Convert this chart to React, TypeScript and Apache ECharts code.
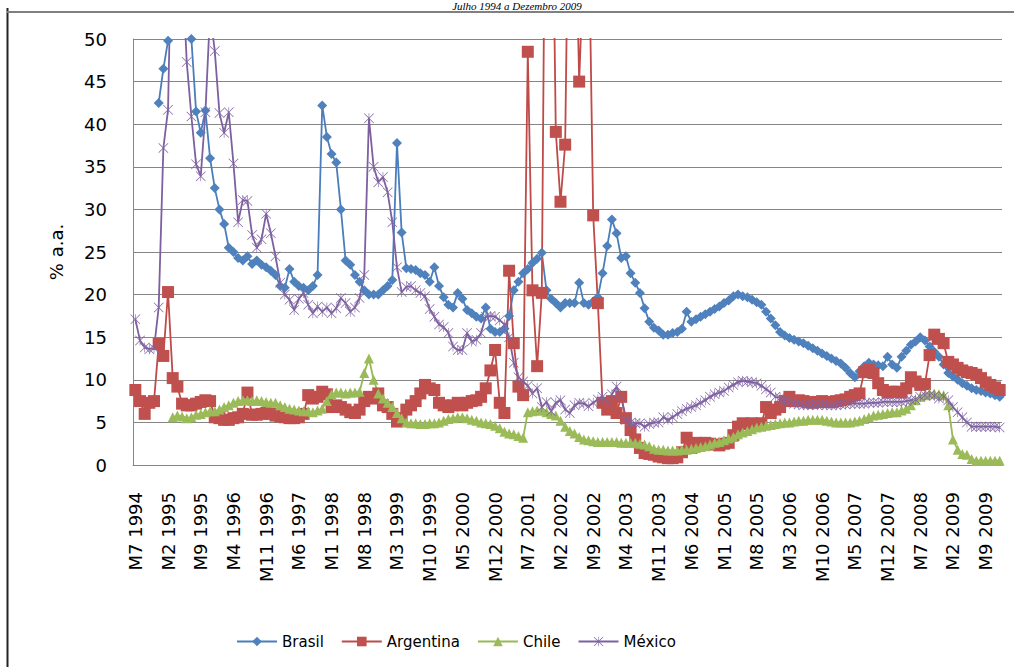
import React, { useEffect, useRef } from "react";
import * as echarts from "echarts";

// Categories: monthly, July 1994 to December 2009
const categories: string[] = [];
for (let k = 0; k < 186; k++) {
  const m = ((6 + k) % 12) + 1;
  const y = 1994 + Math.floor((6 + k) / 12);
  categories.push(`M${m} ${y}`);
}

const yTicks = [0, 5, 10, 15, 20, 25, 30, 35, 40, 45, 50];

const brasil: (number | null)[] = [
  null, null, null, null, null, 42.5,
  46.5, 49.8, 58, 62, 60, 56, 50.0, 41.5, 39.0, 41.6, 36.0, 32.5,
  30.0, 28.3, 25.5, 25.0, 24.3, 24.0, 24.5, 23.6, 24.0, 23.5, 23.2, 22.8,
  22.3, 21.0, 20.8, 23.0, 21.5, 21.0, 20.8, 20.5, 21.0, 22.3, 42.2, 38.5,
  36.5, 35.5, 30.0, 24.0, 23.5, 22.3, 21.5, 20.5, 20.0, 20.0, 20.0, 20.5,
  21.0, 21.7, 37.8, 27.3, 23.1, 23.0, 22.9, 22.5, 22.3, 21.5, 23.2, 21.0,
  19.7, 18.8, 18.5, 20.2, 19.5, 18.2, 17.8, 17.4, 17.2, 18.5, 16.0, 15.6,
  15.6, 16.0, 17.5, 20.5, 21.5, 22.5, 23.0, 23.7, 24.2, 24.9, 20.5, 19.5,
  19.0, 18.5, 19.0, 19.0, 19.0, 21.4, 19.0, 18.8, 19.2, 19.7, 22.5, 25.7,
  28.8, 27.2, 24.3, 24.5, 22.5, 21.4, 20.2, 18.4, 16.8, 16.1, 15.8, 15.3,
  15.3, 15.5, 15.6, 16.0, 18.0, 16.8, 17.1, 17.4, 17.7, 18.0, 18.3, 18.6,
  19.0, 19.3, 19.8, 20.0, 19.8, 19.7, 19.4, 19.1, 18.8, 18.0, 17.2, 16.4,
  15.6, 15.2, 14.9, 14.7, 14.5, 14.3, 14.0, 13.7, 13.4, 13.1, 12.8, 12.5,
  12.2, 11.9, 11.4, 10.8, 10.3, 11.0, 11.6, 12.0, 11.8, 11.7, 11.6, 12.7,
  11.8, 11.4, 12.7, 13.4, 14.1, 14.5, 15.0, 14.6, 13.9, 13.3, 12.7, 11.8,
  10.8, 10.4, 10.0, 9.6, 9.3, 9.0, 8.8, 8.7, 8.5, 8.4, 8.2, 8.0,
];

const argentina: (number | null)[] = [
  8.8, 7.5, 6.0, 7.3, 7.5, 14.2,
  12.8, 20.3, 10.2, 9.2, 7.2, 7.0, 7.0, 7.2, 7.4, 7.6, 7.5, 5.6,
  5.5, 5.3, 5.3, 5.5, 5.6, 6.0, 8.5, 5.9, 5.9, 6.0, 6.1, 6.0,
  5.8, 5.7, 5.6, 5.5, 5.5, 5.6, 6.0, 8.2, 7.8, 8.0, 8.6, 8.3,
  6.8, 7.0, 6.8, 6.5, 6.2, 6.1, 6.5, 7.5, 8.0, 7.8, 8.4, 7.0,
  6.8, 6.0, 5.1, 5.5, 6.5, 7.0, 7.5, 8.4, 9.4, 9.0, 8.8, 7.3,
  7.0, 6.8, 7.0, 7.3, 7.0, 7.3, 7.5, 7.6, 8.0, 9.0, 11.1, 13.5,
  7.3, 6.1, 22.8, 14.3, 9.2, 8.2, 48.5, 20.5, 11.6, 20.2, 90, 80,
  39.1, 30.9, 37.6, 80, 70, 45, 60, 65, 29.3, 19.0, 7.3, 6.5,
  7.5, 6.1, 8.0, 5.5, 4.1, 3.0, 2.0, 1.4, 1.3, 1.2, 1.0, 0.9,
  0.8, 0.8, 0.9, 1.5, 3.2, 2.0, 2.6, 2.5, 2.6, 2.5, 2.4, 2.3,
  2.5, 2.6, 3.5, 4.5, 4.9, 4.8, 4.9, 4.8, 4.9, 6.8, 6.1, 6.5,
  6.8, 7.5, 8.0, 7.5, 7.6, 7.5, 7.4, 7.3, 7.4, 7.5, 7.4, 7.4,
  7.5, 7.6, 7.7, 8.0, 8.2, 8.4, 10.9, 11.2, 10.8, 9.6, 8.8, 8.5,
  8.6, 8.6, 8.5, 9.0, 10.3, 9.8, 9.4, 9.5, 12.9, 15.3, 14.8, 14.3,
  12.1, 11.8, 11.4, 11.1, 10.9, 10.8, 10.6, 10.2, 9.7, 9.4, 9.1, 8.8,
];

const chile: (number | null)[] = [
  null, null, null, null, null, null,
  null, null, 5.6, 5.8, 5.7, 5.5, 5.6, 5.9, 6.0, 6.2, 6.3, 6.3,
  6.5, 6.8, 7.0, 7.3, 7.5, 7.6, 7.6, 7.5, 7.6, 7.5, 7.4, 7.3,
  7.3, 7.0, 6.8, 6.6, 6.5, 6.4, 6.3, 6.3, 6.2, 6.4, 6.6, 7.5,
  8.3, 8.5, 8.5, 8.4, 8.5, 8.5, 8.6, 10.8, 12.5, 10.0, 8.4, 7.8,
  7.3, 6.8, 6.1, 5.5, 5.0, 4.9, 4.9, 4.8, 4.8, 4.9, 4.9, 5.0,
  5.2, 5.4, 5.5, 5.6, 5.6, 5.5, 5.3, 5.2, 5.0, 4.9, 4.8, 4.6,
  4.3, 3.9, 3.7, 3.6, 3.4, 3.2, 6.2, 6.3, 6.4, 6.4, 6.2, 6.0,
  5.8, 5.2, 4.5, 4.0, 3.7, 3.3, 3.0, 2.9, 2.8, 2.7, 2.7, 2.7,
  2.7, 2.7, 2.6, 2.6, 2.6, 2.6, 2.5, 2.4, 2.2, 1.9, 1.8, 1.8,
  1.7, 1.7, 1.7, 1.8, 1.8, 1.9, 2.0, 2.1, 2.2, 2.4, 2.6, 2.7,
  2.9, 3.1, 3.3, 3.6, 3.8, 4.0, 4.2, 4.4, 4.5, 4.6, 4.7, 4.8,
  4.9, 5.0, 5.0, 5.1, 5.2, 5.2, 5.3, 5.3, 5.3, 5.3, 5.2, 5.1,
  5.0, 5.0, 5.0, 5.0, 5.1, 5.2, 5.4, 5.6, 5.8, 5.9, 6.0, 6.1,
  6.2, 6.2, 6.4, 6.6, 7.0, 7.6, 8.0, 8.2, 8.4, 8.4, 8.3, 8.2,
  7.0, 3.0, 1.8, 1.3, 1.2, 0.7, 0.5, 0.5, 0.5, 0.5, 0.5, 0.5,
];

const mexico: (number | null)[] = [
  17.1, 14.6, 13.8, 13.6, 13.7, 18.5,
  37.2, 41.7, 69.5, 74.8, 59.2, 47.3, 40.9, 35.3, 33.9, 41.4, 53.2, 48.6,
  41.3, 39.0, 41.4, 35.4, 28.5, 31.1, 31.0, 27.0, 25.5, 26.5, 29.5, 27.2,
  24.5, 21.4, 20.0, 19.4, 18.2, 19.5, 20.2, 18.8, 17.8, 18.6, 18.0, 18.5,
  17.8, 18.4, 19.6, 19.0, 18.0, 18.5, 19.6, 22.3, 40.7, 35.0, 33.2, 33.8,
  32.0, 28.5, 23.2, 20.3, 20.9, 21.0, 20.5, 20.2, 19.8, 18.3, 17.4, 16.5,
  16.2, 15.5, 13.9, 13.5, 13.5, 15.5, 14.5, 14.7, 15.5, 17.4, 17.5, 17.4,
  17.0, 16.5, 15.0, 12.0, 10.3, 9.8, 9.3, 8.4, 9.0, 6.8, 7.4, 6.3,
  7.3, 7.6, 6.5, 6.1, 7.0, 7.3, 7.2, 6.9, 7.3, 7.7, 8.0, 7.5,
  8.3, 9.2, 8.0, 5.3, 5.0, 4.9, 4.9, 4.5, 4.8, 5.0, 5.0, 5.6,
  5.3, 5.6, 6.0, 6.3, 6.6, 6.8, 7.0, 7.3, 7.6, 8.0, 8.3, 8.5,
  8.7, 9.1, 9.4, 9.7, 9.9, 9.8, 9.7, 9.6, 9.3, 8.9, 8.5, 8.0,
  7.9, 7.6, 7.4, 7.2, 7.1, 7.0, 7.0, 7.1, 7.0, 7.1, 7.0, 7.0,
  7.0, 7.1, 7.1, 7.2, 7.2, 7.2, 7.2, 7.3, 7.3, 7.3, 7.4, 7.4,
  7.4, 7.4, 7.4, 7.5, 7.6, 7.7, 8.0, 8.2, 8.2, 8.1, 7.8, 8.0,
  7.6, 6.8, 6.2, 5.6, 5.0, 4.5, 4.5, 4.5, 4.5, 4.5, 4.5, 4.4,
];

const starSymbol =
  "path://M1,0L10,9L19,0L20,1L11,10L20,19L19,20L10,11L1,20L0,19L9,10L0,1Z M9.4,0L10.6,0L10.6,20L9.4,20Z";

const FONT = "DejaVu Sans";

export default function App() {
  const ref = useRef<HTMLDivElement>(null);
  useEffect(() => {
    document.body.style.margin = "0";
    if (!ref.current) return;
    const chart = echarts.init(ref.current, undefined, { renderer: "svg" });
    const mk = (name: string, data: (number | null)[], color: string, marker: string, symbol: string, size: number) => ({
      name,
      type: "line",
      data,
      symbol,
      symbolSize: size,
      showSymbol: true,
      showAllSymbol: true,
      connectNulls: false,
      clip: true,
      lineStyle: { color, width: 1.8 },
      itemStyle: { color: marker, borderWidth: 0 },
      emphasis: { disabled: true },
    });
    chart.setOption({
      animation: false,
      backgroundColor: "#ffffff",
      textStyle: { fontFamily: FONT },
      grid: { left: 133, right: 12, top: 39, bottom: 202, containLabel: false },
      legend: {
        left: 231,
        top: 629,
        itemWidth: 40,
        itemHeight: 12,
        itemGap: 17,
        textStyle: { fontSize: 15, fontFamily: FONT, color: "#000" },
        data: ["Brasil", "Argentina", "Chile", "México"],
      },
      xAxis: {
        type: "category",
        data: categories,
        boundaryGap: true,
        axisLine: { show: true, lineStyle: { color: "#868686", width: 1 } },
        axisTick: { show: false },
        axisLabel: { interval: 6, rotate: 90, fontSize: 18, fontFamily: FONT, color: "#000", margin: 27 },
        splitLine: { show: false },
      },
      yAxis: {
        type: "value",
        min: yTicks[0],
        max: yTicks[yTicks.length - 1],
        interval: 5,
        name: "% a.a.",
        nameLocation: "middle",
        nameRotate: 90,
        nameGap: 68,
        nameTextStyle: { fontSize: 18, fontFamily: FONT, color: "#000" },
        axisLine: { show: true, lineStyle: { color: "#868686", width: 1 } },
        axisTick: { show: false },
        axisLabel: { fontSize: 18, fontFamily: FONT, color: "#000", margin: 26 },
        splitLine: { show: true, lineStyle: { color: "#868686", width: 1 } },
      },
      graphic: [
        { type: "line", shape: { x1: 7.5, y1: 8, x2: 7.5, y2: 667 }, style: { stroke: "#222", lineWidth: 2 } },
        { type: "line", shape: { x1: 7, y1: 12, x2: 1014, y2: 12 }, style: { stroke: "#808080", lineWidth: 2 } },
        {
          type: "text",
          x: 517,
          y: 0,
          style: {
            text: "Julho 1994 a Dezembro 2009",
            font: "italic 11px 'Liberation Serif'",
            fill: "#000",
            align: "center",
            verticalAlign: "top",
          },
        },
      ],
      series: [
        mk("Brasil", brasil, "#4A7EBB", "#4F81BD", "diamond", 10),
        mk("Argentina", argentina, "#BE4B48", "#C0504D", "rect", 12),
        mk("Chile", chile, "#98B954", "#9BBB59", "triangle", 10),
        mk("México", mexico, "#7D60A0", "#8064A2", starSymbol, 10),
      ],
    });
    return () => chart.dispose();
  }, []);
  return <div ref={ref} style={{ width: 1014, height: 667 }} />;
}
